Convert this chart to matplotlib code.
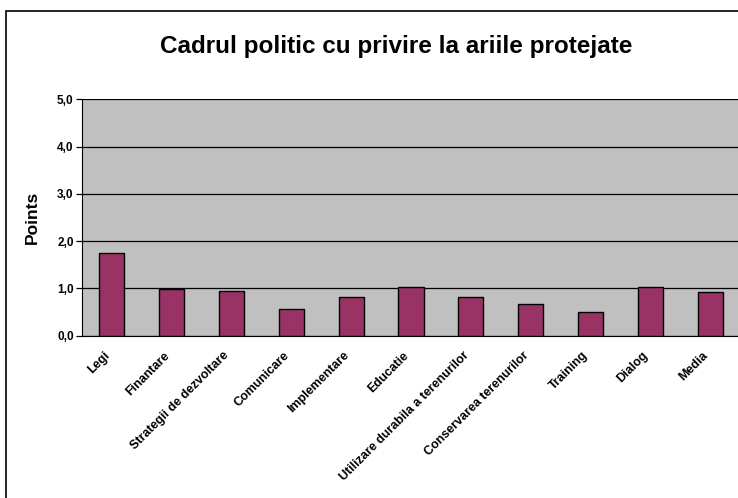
import matplotlib
matplotlib.use("Agg")
import matplotlib.pyplot as plt
import matplotlib.transforms as mtransforms
from matplotlib.patches import Rectangle
from matplotlib.ticker import FuncFormatter

CATEGORIES = [
    "Legi", "Finantare", "Strategii de dezvoltare", "Comunicare",
    "Implementare", "Educatie", "Utilizare durabila a terenurilor",
    "Conservarea terenurilor", "Training", "Dialog", "Media",
]
POINTS = [1.75, 0.98, 0.95, 0.57, 0.82, 1.02, 0.82, 0.67, 0.50, 1.04, 0.92]
Y_TICKS = [0, 1, 2, 3, 4, 5]

TITLE = "Cadrul politic cu privire la ariile protejate"
BAR_COLOR = "#993366"
PLOT_BG = "#C0C0C0"

plt.rcParams["font.family"] = ["Liberation Sans", "DejaVu Sans"]

fig = plt.figure(figsize=(7.38, 4.98), dpi=100)

# outer chart border (right/bottom edges fall outside the image)
fig.patches.append(Rectangle((6 / 738, -0.05), 1.1, 1 - 11 / 498 + 0.05,
                             transform=fig.transFigure, fill=False,
                             edgecolor="black", linewidth=1.2))

ax = fig.add_axes([82 / 738, 1 - 335.7 / 498, 658 / 738, 236.4 / 498])
ax.set_facecolor(PLOT_BG)

x = range(len(CATEGORIES))
ax.bar(x, POINTS, width=0.42, color=BAR_COLOR, edgecolor="black",
       linewidth=1.0, zorder=3)

ax.set_xlim(-0.5, len(CATEGORIES) - 0.5)
ax.set_ylim(0, 5)
ax.set_yticks(Y_TICKS)
ax.yaxis.set_major_formatter(FuncFormatter(lambda v, _: f"{v:.1f}".replace(".", ",")))
ax.grid(axis="y", color="black", linewidth=0.9, zorder=1)

for side in ["top", "right"]:
    ax.spines[side].set_visible(False)
ax.spines["left"].set_color("black")
ax.spines["bottom"].set_color("black")

ax.tick_params(axis="y", length=4, width=0.9, labelsize=8.5, pad=2)
ax.tick_params(axis="x", length=0, pad=10)
for lbl in ax.get_yticklabels():
    lbl.set_fontweight("bold")

ax.set_xticks(list(x))
ax.set_xticklabels(CATEGORIES, rotation=45, ha="right", va="top",
                   rotation_mode="anchor", fontsize=9, fontweight="bold")
# Excel puts the label end a little left of the category centre
shift = mtransforms.ScaledTranslation(-6 / 72, 0, fig.dpi_scale_trans)
for lbl in ax.get_xticklabels():
    lbl.set_transform(lbl.get_transform() + shift)

ax.set_ylabel("Points", fontsize=12.5, fontweight="bold", labelpad=12)

fig.text(396 / 738, 1 - 47 / 498, TITLE, ha="center", va="center",
         fontsize=17.5, fontweight="bold")

fig.savefig("out.png", dpi=100)
